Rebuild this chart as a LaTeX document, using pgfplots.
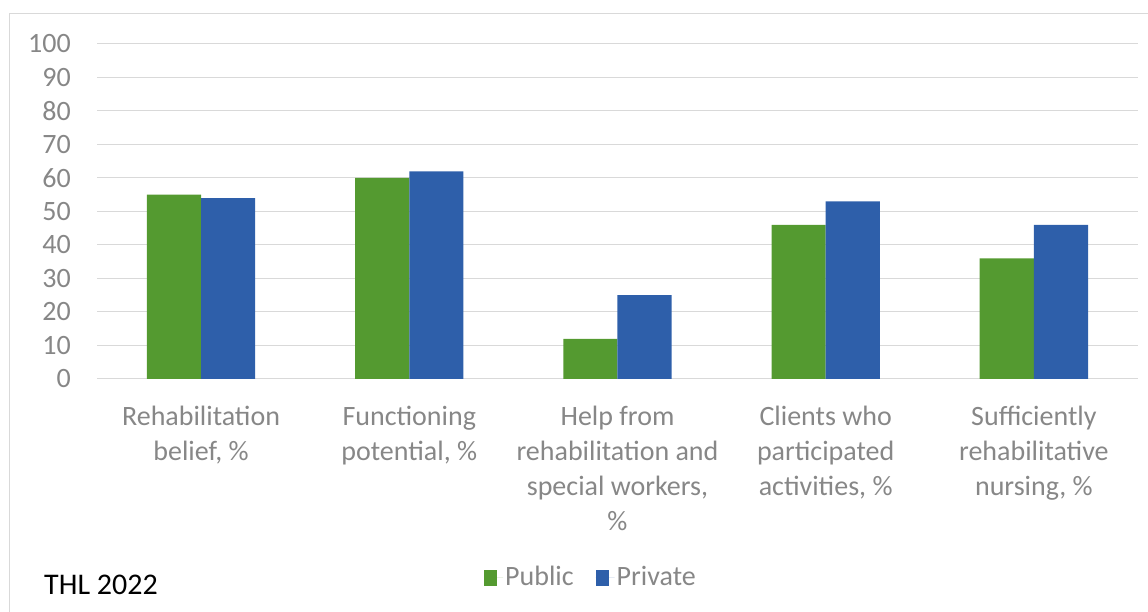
\documentclass[border=0pt]{standalone}
\usepackage{fontspec}
\setmainfont{Carlito}
\usepackage{pgfplots}
\pgfplotsset{compat=1.18}
\definecolor{pubgreen}{RGB}{84,154,48}
\definecolor{privblue}{RGB}{46,95,170}
\definecolor{txtgray}{RGB}{135,135,135}
\definecolor{gridgray}{RGB}{217,217,217}
\begin{document}
\fontsize{28}{35}\selectfont
\begin{tikzpicture}
\useasboundingbox (0,0) rectangle (1148pt,612pt);
% chart frame
\draw[gridgray, line width=1pt] (9pt,0pt) -- (9pt,598pt) -- (1148pt,598pt);
\begin{axis}[
  at={(97pt,233pt)}, anchor=south west,
  scale only axis, width=1041pt, height=335pt,
  xmin=-0.5, xmax=4.5, ymin=0, ymax=100,
  axis line style={draw=none},
  ymajorgrids, grid style={gridgray, line width=1pt},
  ytick={0,10,...,100},
  xtick={0,1,2,3,4},
  xticklabels={{Rehabilitation\\belief, \%},{Functioning\\potential, \%},{Help from\\rehabilitation and\\special workers,\\\%},{Clients who\\participated\\activities, \%},{Sufficiently\\rehabilitative\\nursing, \%}},
  major tick length=0pt,
  /pgf/number format/assume math mode=true,
  tick label style={font=\fontsize{28}{35}\selectfont, text=txtgray},
  yticklabel style={anchor=east, inner sep=0pt, xshift=-26pt},
  xticklabel style={anchor=north, inner sep=0pt, yshift=-27pt, align=center},
  legend style={draw=none, fill=none, at={(0.4745,-0.594)}, anchor=center,
    font=\fontsize{28}{35}\selectfont, text=txtgray, legend columns=2,
    /tikz/every even column/.append style={column sep=20pt}},
  legend cell align=left,
  legend image code/.code={\fill[#1] (0pt,-8pt) rectangle (13pt,8pt); \path (0pt,0pt) -- (19pt,0pt);},
]
\addplot[ybar, bar width=0.26, bar shift=-0.13, fill=pubgreen, draw=none] coordinates {(0,55) (1,60) (2,12) (3,46) (4,36)};
\addplot[ybar, bar width=0.26, bar shift=0.13, fill=privblue, draw=none] coordinates {(0,54) (1,62) (2,25) (3,53) (4,46)};
\legend{Public, Private}
\end{axis}
\node[anchor=base west, inner sep=0pt, font=\fontsize{30}{36}\selectfont] at (44pt,17pt) {THL 2022};
\end{tikzpicture}
\end{document}
